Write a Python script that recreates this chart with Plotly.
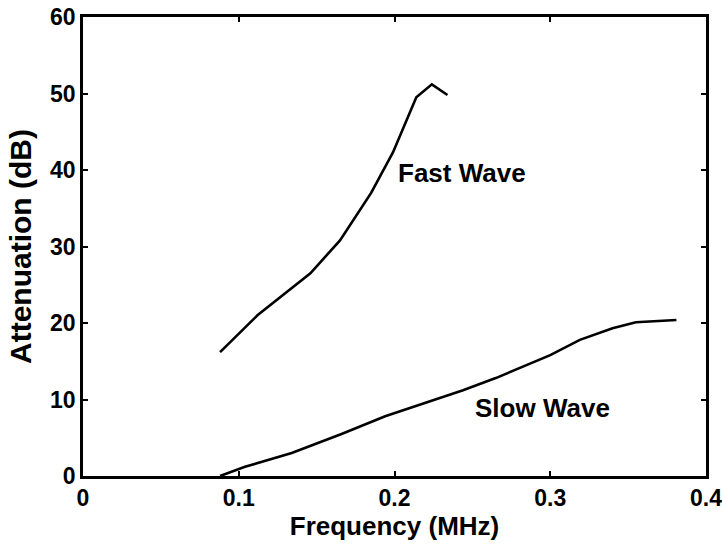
import plotly.graph_objects as go

# Data
fast_freq = [0.088, 0.112, 0.146, 0.165, 0.185, 0.199, 0.214, 0.224, 0.234]
fast_att = [16.2, 21.0, 26.5, 30.8, 37.0, 42.3, 49.5, 51.2, 49.8]

slow_freq = [0.088, 0.097, 0.104, 0.134, 0.166, 0.194, 0.244, 0.265, 0.300, 0.319, 0.340, 0.355, 0.381]
slow_att = [0.0, 0.7, 1.2, 3.0, 5.5, 7.8, 11.2, 12.8, 15.8, 17.8, 19.3, 20.1, 20.4]

x_ticks = [0, 0.1, 0.2, 0.3, 0.4]
x_ticktext = ["0", "0.1", "0.2", "0.3", "0.4"]
y_ticks = [0, 10, 20, 30, 40, 50, 60]
y_ticktext = ["0", "10", "20", "30", "40", "50", "60"]

labels = ["Fast Wave", "Slow Wave"]
label_x = [0.2433, 0.2947]
label_y = [39.6, 8.9]

FONT = "Liberation Sans, Arial, sans-serif"

fig = go.Figure()
fig.add_trace(go.Scatter(x=fast_freq, y=fast_att, mode="lines",
                         line=dict(color="black", width=2.6), showlegend=False))
fig.add_trace(go.Scatter(x=slow_freq, y=slow_att, mode="lines",
                         line=dict(color="black", width=2.6), showlegend=False))

for t, xx, yy in zip(labels, label_x, label_y):
    fig.add_annotation(x=xx, y=yy, text="<b>" + t + "</b>", showarrow=False,
                       font=dict(family=FONT, size=26, color="black"))

axis_common = dict(showline=True, linecolor="black", linewidth=2.5, mirror="ticks",
                   ticks="inside", ticklen=5, tickwidth=2, tickcolor="black",
                   showgrid=False, zeroline=False, automargin=False,
                   ticklabeloverflow="allow",
                   tickfont=dict(family=FONT, size=23, color="black", weight="bold"))

fig.update_layout(
    width=722, height=544,
    margin=dict(l=83, r=16, t=17, b=68),
    plot_bgcolor="white", paper_bgcolor="white",
    xaxis=dict(range=[0, 0.4], tickvals=x_ticks, ticktext=x_ticktext,
               title=dict(text="<b>Frequency (MHz)</b>", standoff=0,
                          font=dict(family=FONT, size=26, color="black")),
               **axis_common),
    yaxis=dict(range=[0, 60], tickvals=y_ticks, ticktext=y_ticktext,
               title=dict(text="<b>Attenuation (dB)</b>", standoff=10,
                          font=dict(family=FONT, size=30, color="black")),
               **axis_common),
)

fig.write_html("out.html")
